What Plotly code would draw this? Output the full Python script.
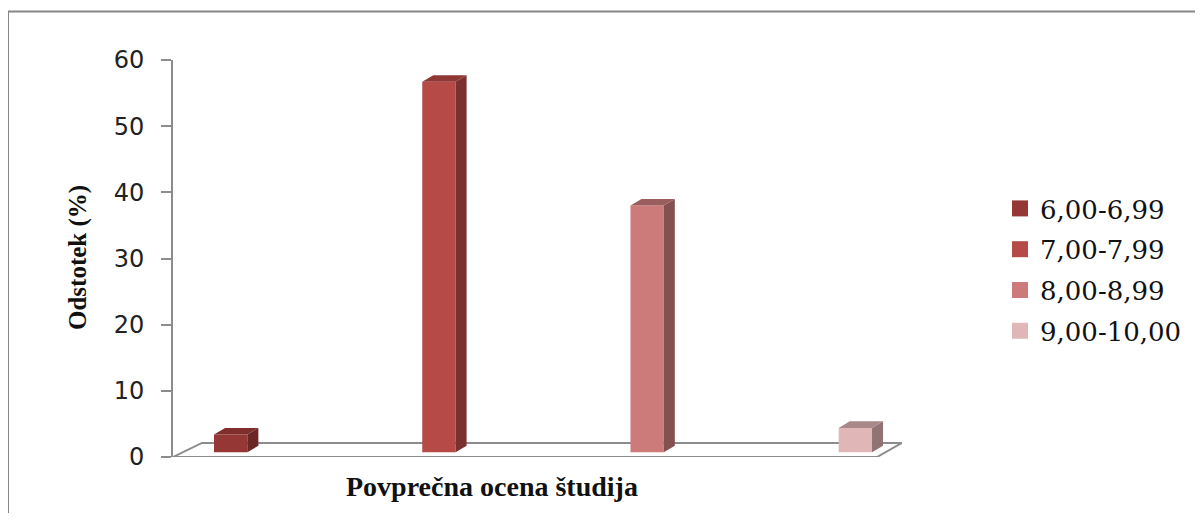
import plotly.graph_objects as go

# ---- data ----
series_names = ["6,00-6,99", "7,00-7,99", "8,00-8,99", "9,00-10,00"]
values = [2.7, 56.0, 37.3, 3.7]
positions = [0, 1, 2, 3]
y_ticks = [0, 10, 20, 30, 40, 50, 60]
x_title = "Povprečna ocena študija"
y_title = "Odstotek (%)"

front_colors = ["#953735", "#B64A47", "#CD7B7A", "#E0B6B6"]
side_colors = ["#6B2726", "#7A302E", "#845050", "#907474"]
top_colors = ["#7F2E2C", "#8E3735", "#9A5E5E", "#A88888"]

# ---- geometry / style constants ----
OFF = 8                                        # page body margin
W, H = 1203 - 2 * OFF, 521 - 2 * OFF
PL, PR, PT, PB = 173 - OFF, 902 - OFF, 60 - OFF, 457 - OFF   # plot area (figure px)
X_RANGE = [-0.277, 3.224]
Y_RANGE = [0, 60]
BAR_W = 0.16
DX, DY = 0.053, 1.0                           # bar depth (data units)
BASE = 0.7                                    # perspective lift of bars
FLOOR_X_FRONT_R = 3.104
FLOOR_BACK = (-0.138, 3.224, 2.12)
AXIS_COL = "#8C8C8C"


def px2paper_x(px):
    return (px - OFF - PL) / (PR - PL)


def px2paper_y(py):
    return (PB - (py - OFF)) / (PB - PT)


fig = go.Figure()

# floor (drawn first, below bars)
fx0, fx1, fy = FLOOR_BACK
fig.add_shape(type="path", xref="x", yref="y", layer="below",
              path=f"M {X_RANGE[0]},0 L {FLOOR_X_FRONT_R},0 L {fx1},{fy} L {fx0},{fy} Z",
              line=dict(color=AXIS_COL, width=2), fillcolor="white")

for i, (name, v, x) in enumerate(zip(series_names, values, positions)):
    # front face
    fig.add_trace(go.Bar(x=[x], y=[v], base=BASE, width=BAR_W,
                         marker=dict(color=front_colors[i], line=dict(width=0)),
                         showlegend=False, hoverinfo="skip"))
    xl, xr = x - BAR_W / 2, x + BAR_W / 2
    top = BASE + v
    # side face
    fig.add_trace(go.Scatter(
        x=[xr, xr + DX, xr + DX, xr, xr],
        y=[BASE, BASE + DY, top + DY, top, BASE],
        mode="lines", fill="toself", fillcolor=side_colors[i],
        line=dict(width=0, color=side_colors[i]), showlegend=False, hoverinfo="skip"))
    # top face
    fig.add_trace(go.Scatter(
        x=[xl, xl + DX, xr + DX, xr, xl],
        y=[top, top + DY, top + DY, top, top],
        mode="lines", fill="toself", fillcolor=top_colors[i],
        line=dict(width=0, color=top_colors[i]), showlegend=False, hoverinfo="skip"))

# legend entries
for i, name in enumerate(series_names):
    fig.add_trace(go.Scatter(x=[None], y=[None], mode="markers", name=name,
                             legendgroup=f"g{i}",
                             marker=dict(symbol="square", size=16, color=front_colors[i])))

fig.update_layout(
    width=W, height=H,
    margin=dict(l=PL, r=W - PR, t=PT, b=H - PB, autoexpand=False),
    paper_bgcolor="white", plot_bgcolor="white",
    barmode="overlay",
    xaxis=dict(range=X_RANGE, visible=False, fixedrange=True),
    yaxis=dict(range=Y_RANGE, tickvals=y_ticks, showgrid=False, zeroline=False,
               showline=True, linecolor=AXIS_COL, linewidth=2,
               ticks="outside", ticklen=10, tickwidth=2, tickcolor=AXIS_COL,
               ticklabelstandoff=12,
               tickfont=dict(family="DejaVu Sans", size=24, color="#222222")),
    legend=dict(x=px2paper_x(1000), y=px2paper_y(270), xanchor="left", yanchor="middle",
                font=dict(family="DejaVu Serif", size=26, color="#111111"),
                tracegroupgap=4, bgcolor="rgba(0,0,0,0)"),
    showlegend=True,
)

fig.add_annotation(x=px2paper_x(492), y=px2paper_y(486), xref="paper", yref="paper",
                   text=f"<b>{x_title}</b>", showarrow=False, xanchor="center", yanchor="middle",
                   font=dict(family="Liberation Serif", size=28, color="#111111"))
fig.add_annotation(x=px2paper_x(78), y=px2paper_y(258), xref="paper", yref="paper",
                   text=f"<b>{y_title}</b>", showarrow=False, textangle=-90,
                   xanchor="center", yanchor="middle",
                   font=dict(family="Liberation Serif", size=25, color="#111111"))

# outer chart border (top and left edges visible)
fig.add_shape(type="line", xref="paper", yref="paper",
              x0=px2paper_x(8), y0=px2paper_y(11.5), x1=px2paper_x(1210), y1=px2paper_y(11.5),
              line=dict(color="#868686", width=2))
fig.add_shape(type="line", xref="paper", yref="paper",
              x0=px2paper_x(8), y0=px2paper_y(11.5), x1=px2paper_x(8), y1=px2paper_y(530),
              line=dict(color="#868686", width=2))

fig.write_html("out.html")
